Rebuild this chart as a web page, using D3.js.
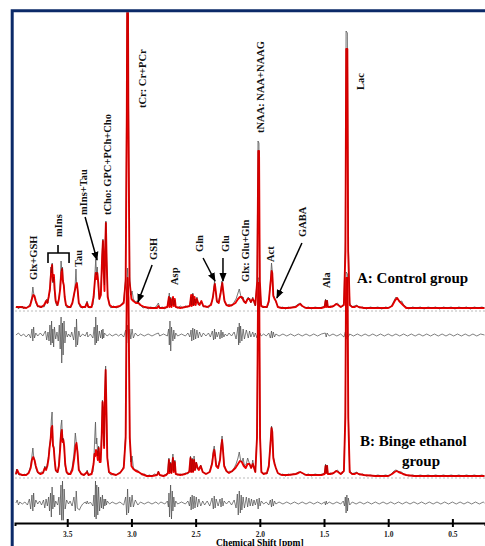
<!DOCTYPE html>
<html>
<head>
<meta charset="utf-8">
<script src="https://cdn.jsdelivr.net/npm/d3@7"></script>
<style>
  html, body { margin: 0; padding: 0; background: #fff; }
  svg { display: block; }
  text { font-family: 'Liberation Serif', 'Times New Roman', serif; font-weight: bold; }
</style>
</head>
<body>
<div id="chart"></div>
<script>
// chemical shift ticks (ppm)
const ppmTicks = [3.5, 3.0, 2.5, 2.0, 1.5, 1.0, 0.5];

// panel A: control group  [ppm, intensity a.u.]
const fitA = [[3.90,4],[3.86,4],[3.82,3],[3.79,5],[3.775,12],[3.765,16],[3.755,15],[3.745,10],[3.73,5],[3.70,4],[3.68,6],[3.665,10],[3.655,8],[3.645,14],[3.635,22],[3.625,40],[3.618,46],[3.612,30],[3.604,36],[3.598,22],[3.59,10],[3.575,6],[3.565,12],[3.555,22],[3.546,38],[3.540,42],[3.534,30],[3.527,26],[3.520,14],[3.51,6],[3.49,4],[3.475,4],[3.46,8],[3.445,18],[3.432,26],[3.425,28],[3.418,20],[3.41,8],[3.39,4],[3.36,4],[3.345,8],[3.335,4],[3.31,4],[3.295,14],[3.285,30],[3.278,38],[3.272,32],[3.266,38],[3.258,28],[3.25,12],[3.238,16],[3.228,55],[3.222,70],[3.216,40],[3.210,20],[3.205,60],[3.199,88],[3.193,50],[3.185,14],[3.17,6],[3.15,4],[3.12,4],[3.09,5],[3.06,8],[3.045,30],[3.036,200],[3.030,420],[3.024,200],[3.015,30],[3.00,12],[2.985,10],[2.965,8],[2.945,8],[2.93,6],[2.90,4],[2.85,3],[2.80,3],[2.79,5],[2.78,3],[2.75,3],[2.72,4],[2.708,14],[2.703,4],[2.695,12],[2.688,4],[2.676,14],[2.67,5],[2.662,12],[2.655,4],[2.62,3],[2.58,4],[2.545,5],[2.535,16],[2.530,5],[2.522,16],[2.516,6],[2.508,14],[2.50,6],[2.49,12],[2.48,8],[2.47,6],[2.455,10],[2.44,5],[2.41,4],[2.38,6],[2.365,14],[2.355,24],[2.350,27],[2.343,20],[2.335,10],[2.32,8],[2.305,18],[2.298,24],[2.292,28],[2.285,20],[2.275,10],[2.26,6],[2.24,5],[2.215,6],[2.19,8],[2.17,12],[2.155,14],[2.14,14],[2.125,10],[2.11,8],[2.095,12],[2.08,12],[2.07,9],[2.055,12],[2.045,10],[2.035,6],[2.020,30],[2.012,160],[2.006,160],[2.000,30],[1.99,5],[1.97,4],[1.945,4],[1.93,10],[1.915,30],[1.908,40],[1.903,38],[1.895,15],[1.885,12],[1.875,10],[1.86,4],[1.83,3],[1.78,3],[1.72,4],[1.70,6],[1.685,7],[1.67,5],[1.64,3],[1.58,3],[1.52,3],[1.495,4],[1.488,10],[1.483,4],[1.476,10],[1.47,4],[1.45,4],[1.425,5],[1.405,7],[1.39,6],[1.37,4],[1.345,6],[1.333,60],[1.327,262],[1.318,262],[1.312,60],[1.30,6],[1.28,4],[1.26,4],[1.245,5],[1.23,4],[1.19,3],[1.10,3],[1.00,3],[0.97,5],[0.945,11],[0.93,13],[0.915,10],[0.90,8],[0.885,6],[0.86,3],[0.80,3],[0.70,3],[0.60,3],[0.50,3],[0.40,3],[0.30,3],[0.25,3]];

const measA = [[3.90,3],[3.89,5],[3.88,2],[3.87,4],[3.86,3],[3.85,5],[3.84,2],[3.83,4],[3.82,3],[3.80,5],[3.785,8],[3.775,15],[3.768,24],[3.762,18],[3.755,14],[3.745,8],[3.73,4],[3.72,5],[3.71,3],[3.70,5],[3.68,4],[3.67,8],[3.66,12],[3.65,8],[3.642,16],[3.635,20],[3.628,44],[3.622,38],[3.617,48],[3.612,28],[3.606,34],[3.60,20],[3.59,8],[3.58,5],[3.57,10],[3.562,16],[3.555,28],[3.548,50],[3.543,40],[3.537,44],[3.532,28],[3.525,24],[3.518,12],[3.51,5],[3.50,3],[3.49,5],[3.475,3],[3.465,6],[3.45,14],[3.44,22],[3.432,42],[3.428,30],[3.42,22],[3.41,8],[3.40,4],[3.38,3],[3.36,5],[3.345,10],[3.34,4],[3.32,3],[3.30,6],[3.29,18],[3.283,40],[3.278,52],[3.272,36],[3.266,44],[3.26,28],[3.25,12],[3.24,18],[3.232,40],[3.226,62],[3.222,72],[3.216,44],[3.21,26],[3.204,66],[3.199,90],[3.193,52],[3.185,16],[3.17,5],[3.16,3],[3.14,5],[3.12,3],[3.10,4],[3.08,6],[3.06,10],[3.045,34],[3.037,220],[3.030,430],[3.023,210],[3.013,34],[3.005,16],[2.995,20],[2.985,12],[2.97,9],[2.955,10],[2.94,7],[2.925,5],[2.91,3],[2.89,4],[2.87,2],[2.85,4],[2.83,3],[2.81,4],[2.79,8],[2.78,3],[2.76,4],[2.74,2],[2.72,5],[2.71,12],[2.705,18],[2.70,6],[2.694,14],[2.688,5],[2.677,13],[2.67,6],[2.663,11],[2.655,4],[2.64,3],[2.62,5],[2.60,3],[2.58,5],[2.56,4],[2.545,6],[2.536,14],[2.53,6],[2.522,18],[2.515,5],[2.508,12],[2.50,8],[2.49,14],[2.48,6],[2.47,8],[2.455,9],[2.44,4],[2.42,5],[2.40,3],[2.385,7],[2.37,10],[2.36,20],[2.353,30],[2.347,22],[2.34,16],[2.332,8],[2.32,10],[2.31,16],[2.302,22],[2.295,30],[2.288,22],[2.28,12],[2.27,8],[2.255,5],[2.24,7],[2.22,5],[2.20,9],[2.185,12],[2.17,18],[2.16,22],[2.15,16],[2.14,12],[2.13,14],[2.12,8],[2.105,10],[2.09,14],[2.08,11],[2.07,8],[2.055,14],[2.045,8],[2.035,5],[2.022,30],[2.014,170],[2.007,168],[2.000,28],[1.99,6],[1.975,3],[1.96,5],[1.945,3],[1.93,8],[1.918,28],[1.909,48],[1.903,40],[1.895,16],[1.886,14],[1.875,9],[1.86,5],[1.845,3],[1.82,4],[1.80,2],[1.78,4],[1.76,3],[1.74,4],[1.72,5],[1.70,7],[1.685,8],[1.67,5],[1.65,3],[1.62,4],[1.60,2],[1.57,4],[1.54,3],[1.51,4],[1.495,5],[1.488,12],[1.483,5],[1.476,11],[1.47,4],[1.45,5],[1.43,4],[1.41,7],[1.395,8],[1.38,5],[1.36,4],[1.345,8],[1.334,70],[1.328,280],[1.318,278],[1.311,70],[1.30,8],[1.285,4],[1.265,5],[1.245,6],[1.225,3],[1.20,4],[1.17,2],[1.14,4],[1.11,3],[1.08,4],[1.05,2],[1.02,4],[0.99,3],[0.97,6],[0.955,10],[0.94,14],[0.925,12],[0.91,9],[0.895,10],[0.88,6],[0.86,4],[0.84,2],[0.81,4],[0.78,3],[0.75,4],[0.72,2],[0.69,4],[0.66,3],[0.63,4],[0.60,2],[0.57,4],[0.54,3],[0.51,4],[0.48,2],[0.45,4],[0.42,3],[0.39,4],[0.36,2],[0.33,4],[0.30,3],[0.27,4],[0.25,3]];

const residA = [[3.90,0],[3.88,2],[3.86,-1],[3.84,1],[3.82,-2],[3.80,1],[3.785,-3],[3.775,6],[3.768,-6],[3.762,8],[3.755,-3],[3.745,2],[3.73,-1],[3.71,2],[3.69,-1],[3.67,4],[3.66,-5],[3.65,3],[3.642,-6],[3.635,10],[3.628,-10],[3.622,14],[3.617,-8],[3.612,6],[3.606,-12],[3.60,8],[3.59,-4],[3.58,3],[3.57,-6],[3.562,10],[3.555,-14],[3.548,18],[3.543,-28],[3.537,12],[3.532,-20],[3.525,14],[3.518,-8],[3.51,4],[3.50,-2],[3.49,1],[3.475,-2],[3.465,3],[3.45,-5],[3.44,8],[3.432,-12],[3.428,16],[3.42,-10],[3.41,4],[3.40,-2],[3.38,1],[3.36,-1],[3.345,3],[3.34,-2],[3.32,1],[3.30,-3],[3.29,8],[3.283,-10],[3.278,18],[3.272,-8],[3.266,10],[3.26,-6],[3.25,4],[3.24,-3],[3.232,5],[3.226,-4],[3.222,6],[3.216,-3],[3.21,2],[3.19,-1],[3.17,1],[3.15,-1],[3.12,1],[3.10,-1],[3.08,1],[3.06,-2],[3.045,5],[3.037,-8],[3.030,10],[3.023,-7],[3.013,6],[3.005,-4],[2.995,6],[2.985,-3],[2.97,2],[2.95,-1],[2.93,1],[2.90,-1],[2.87,1],[2.84,-1],[2.81,1],[2.79,2],[2.78,-1],[2.75,1],[2.72,-1],[2.71,6],[2.705,-10],[2.70,14],[2.694,-16],[2.688,8],[2.677,-6],[2.67,5],[2.663,-4],[2.655,2],[2.64,-1],[2.61,1],[2.58,-1],[2.56,2],[2.545,-2],[2.536,5],[2.53,-6],[2.522,7],[2.515,-5],[2.508,6],[2.50,-4],[2.49,5],[2.48,-3],[2.47,3],[2.455,-2],[2.44,2],[2.42,-1],[2.40,2],[2.385,-2],[2.37,4],[2.36,-5],[2.353,6],[2.347,-4],[2.34,3],[2.332,-2],[2.32,3],[2.31,-4],[2.302,5],[2.295,-3],[2.288,3],[2.28,-2],[2.27,1],[2.255,-1],[2.24,2],[2.22,-1],[2.20,3],[2.185,-4],[2.17,8],[2.165,-10],[2.16,12],[2.155,-8],[2.15,9],[2.14,-6],[2.13,6],[2.12,-4],[2.105,5],[2.09,-3],[2.08,4],[2.07,-2],[2.055,3],[2.045,-2],[2.035,2],[2.022,-3],[2.014,4],[2.007,-3],[2.000,2],[1.99,-1],[1.97,1],[1.95,-1],[1.93,2],[1.918,-3],[1.909,4],[1.903,-3],[1.895,3],[1.886,-2],[1.875,1],[1.85,-1],[1.82,1],[1.79,-1],[1.76,1],[1.73,-1],[1.70,1],[1.67,-1],[1.64,1],[1.61,-1],[1.58,1],[1.55,-1],[1.52,1],[1.49,2],[1.483,-2],[1.476,2],[1.46,-1],[1.43,1],[1.40,-1],[1.37,1],[1.345,-2],[1.334,3],[1.328,-4],[1.318,3],[1.311,-2],[1.30,1],[1.27,-1],[1.24,1],[1.21,-1],[1.18,1],[1.15,-1],[1.12,1],[1.09,-1],[1.06,1],[1.03,-1],[1.00,1],[0.97,-1],[0.94,1],[0.91,-1],[0.88,1],[0.85,-1],[0.82,1],[0.79,-1],[0.76,1],[0.73,-1],[0.70,1],[0.67,-1],[0.64,1],[0.61,-1],[0.58,1],[0.55,-1],[0.52,1],[0.49,-1],[0.46,1],[0.43,-1],[0.40,1],[0.37,-1],[0.34,1],[0.31,-1],[0.28,1],[0.25,0]];

// panel B: binge ethanol group
const fitB = [[3.90,4],[3.89,8],[3.875,4],[3.85,3],[3.82,3],[3.80,5],[3.785,10],[3.775,18],[3.765,21],[3.755,18],[3.745,12],[3.73,6],[3.71,4],[3.69,5],[3.675,10],[3.665,8],[3.655,12],[3.645,20],[3.638,30],[3.630,38],[3.623,50],[3.617,52],[3.611,32],[3.605,30],[3.598,18],[3.59,8],[3.575,6],[3.565,12],[3.557,26],[3.548,44],[3.542,48],[3.536,36],[3.530,38],[3.524,32],[3.516,14],[3.505,6],[3.49,4],[3.475,4],[3.46,8],[3.445,20],[3.435,32],[3.428,35],[3.42,26],[3.41,8],[3.39,4],[3.37,3],[3.345,6],[3.335,3],[3.31,4],[3.295,14],[3.288,24],[3.282,22],[3.276,28],[3.270,26],[3.262,18],[3.255,30],[3.248,16],[3.240,16],[3.232,40],[3.225,76],[3.219,60],[3.213,30],[3.207,80],[3.201,108],[3.195,70],[3.188,20],[3.175,6],[3.15,4],[3.12,3],[3.09,5],[3.06,10],[3.045,40],[3.037,180],[3.030,200],[3.023,180],[3.013,40],[3.00,12],[2.985,9],[2.965,7],[2.945,6],[2.92,4],[2.88,2],[2.84,2],[2.80,3],[2.79,6],[2.78,3],[2.75,2],[2.73,3],[2.715,5],[2.708,18],[2.703,5],[2.695,14],[2.688,5],[2.677,20],[2.67,6],[2.662,16],[2.655,4],[2.62,3],[2.58,4],[2.55,6],[2.540,20],[2.535,6],[2.527,18],[2.52,6],[2.512,18],[2.505,8],[2.495,15],[2.485,10],[2.475,8],[2.46,12],[2.445,6],[2.42,4],[2.39,6],[2.372,14],[2.362,24],[2.355,28],[2.348,22],[2.34,12],[2.325,10],[2.31,18],[2.302,30],[2.294,38],[2.287,28],[2.278,12],[2.26,7],[2.24,5],[2.215,7],[2.19,10],[2.17,14],[2.155,17],[2.14,16],[2.125,12],[2.11,10],[2.095,14],[2.08,14],[2.068,10],[2.055,14],[2.045,10],[2.035,6],[2.022,40],[2.013,195],[2.005,195],[1.998,40],[1.988,6],[1.97,4],[1.945,5],[1.93,12],[1.917,34],[1.909,50],[1.903,46],[1.895,20],[1.885,14],[1.875,10],[1.86,5],[1.83,3],[1.78,3],[1.72,4],[1.70,5],[1.685,6],[1.67,5],[1.64,3],[1.58,3],[1.52,3],[1.495,4],[1.488,12],[1.483,5],[1.476,12],[1.47,4],[1.45,4],[1.425,5],[1.405,7],[1.39,6],[1.37,4],[1.345,7],[1.334,60],[1.328,200],[1.317,200],[1.311,60],[1.30,6],[1.28,4],[1.26,4],[1.245,5],[1.23,4],[1.19,3],[1.10,2],[1.00,2],[0.97,4],[0.95,6],[0.935,7],[0.92,6],[0.90,5],[0.885,4],[0.86,3],[0.80,2],[0.70,2],[0.60,2],[0.50,2],[0.40,2],[0.30,2],[0.25,2]];

const measB = [[3.90,3],[3.895,9],[3.885,5],[3.875,3],[3.86,4],[3.85,2],[3.835,4],[3.82,3],[3.80,6],[3.785,12],[3.775,22],[3.768,30],[3.762,22],[3.755,18],[3.745,10],[3.73,5],[3.72,4],[3.70,6],[3.685,5],[3.675,12],[3.665,9],[3.655,14],[3.645,22],[3.638,32],[3.630,40],[3.624,58],[3.618,66],[3.612,34],[3.605,32],[3.598,16],[3.59,7],[3.575,5],[3.565,14],[3.558,30],[3.549,52],[3.543,58],[3.537,38],[3.531,40],[3.524,30],[3.516,12],[3.505,5],[3.49,3],[3.478,5],[3.462,10],[3.448,24],[3.437,45],[3.43,36],[3.422,28],[3.41,9],[3.395,4],[3.37,3],[3.35,5],[3.345,8],[3.335,3],[3.32,4],[3.30,6],[3.292,20],[3.286,40],[3.280,56],[3.275,34],[3.270,40],[3.262,22],[3.256,32],[3.248,18],[3.240,18],[3.233,44],[3.226,78],[3.219,62],[3.213,32],[3.207,82],[3.201,112],[3.195,72],[3.188,22],[3.175,5],[3.16,3],[3.14,4],[3.12,3],[3.10,5],[3.08,6],[3.06,12],[3.045,44],[3.037,190],[3.030,210],[3.023,185],[3.013,44],[3.005,16],[2.995,22],[2.985,10],[2.97,8],[2.955,8],[2.94,6],[2.92,3],[2.90,4],[2.88,2],[2.86,3],[2.84,2],[2.82,4],[2.80,3],[2.79,7],[2.78,3],[2.76,2],[2.74,3],[2.72,4],[2.708,20],[2.703,6],[2.695,16],[2.688,5],[2.677,24],[2.67,7],[2.662,18],[2.655,4],[2.64,3],[2.62,4],[2.60,3],[2.58,5],[2.56,4],[2.548,8],[2.540,22],[2.535,6],[2.527,20],[2.52,6],[2.512,22],[2.505,8],[2.495,16],[2.485,9],[2.475,10],[2.46,13],[2.445,6],[2.43,5],[2.41,4],[2.39,7],[2.372,16],[2.362,28],[2.355,32],[2.348,24],[2.34,14],[2.325,11],[2.31,20],[2.302,32],[2.294,42],[2.287,30],[2.278,14],[2.265,8],[2.25,5],[2.235,7],[2.215,6],[2.20,10],[2.185,14],[2.17,20],[2.16,26],[2.15,18],[2.14,16],[2.13,20],[2.12,12],[2.105,14],[2.095,20],[2.085,16],[2.075,12],[2.065,10],[2.055,18],[2.045,10],[2.035,6],[2.022,44],[2.013,200],[2.005,200],[1.998,42],[1.988,7],[1.975,4],[1.96,5],[1.945,4],[1.93,10],[1.918,36],[1.909,52],[1.903,48],[1.895,22],[1.886,16],[1.875,10],[1.86,5],[1.845,3],[1.82,4],[1.80,2],[1.78,4],[1.76,3],[1.74,4],[1.72,4],[1.70,6],[1.685,6],[1.67,5],[1.65,3],[1.62,4],[1.60,2],[1.57,4],[1.54,3],[1.51,4],[1.495,5],[1.488,14],[1.483,5],[1.476,13],[1.47,4],[1.45,5],[1.43,4],[1.41,7],[1.395,8],[1.38,5],[1.36,4],[1.345,8],[1.334,66],[1.328,206],[1.317,204],[1.311,66],[1.30,8],[1.285,4],[1.265,5],[1.245,6],[1.225,3],[1.20,4],[1.17,2],[1.14,3],[1.11,2],[1.08,3],[1.05,2],[1.02,3],[0.99,2],[0.97,5],[0.955,7],[0.94,8],[0.925,7],[0.91,6],[0.895,6],[0.88,4],[0.86,3],[0.84,2],[0.81,3],[0.78,2],[0.75,3],[0.72,2],[0.69,3],[0.66,2],[0.63,3],[0.60,2],[0.57,3],[0.54,2],[0.51,3],[0.48,2],[0.45,3],[0.42,2],[0.39,3],[0.36,2],[0.33,3],[0.30,2],[0.27,3],[0.25,2]];

const residB = [[3.90,0],[3.89,3],[3.88,-2],[3.87,1],[3.85,-1],[3.83,1],[3.81,-2],[3.795,4],[3.785,-6],[3.775,8],[3.768,-8],[3.762,10],[3.755,-4],[3.745,3],[3.73,-1],[3.715,2],[3.70,-2],[3.685,3],[3.675,-5],[3.665,4],[3.655,-3],[3.645,6],[3.638,-8],[3.630,10],[3.624,-14],[3.618,16],[3.612,-6],[3.605,8],[3.598,-4],[3.59,2],[3.575,-2],[3.565,6],[3.558,-12],[3.549,18],[3.543,-24],[3.537,22],[3.531,-18],[3.524,14],[3.516,-6],[3.505,3],[3.49,-1],[3.478,2],[3.462,-3],[3.448,6],[3.437,-8],[3.43,12],[3.422,-5],[3.415,-6],[3.405,-7],[3.395,-4],[3.38,-1],[3.36,1],[3.35,-1],[3.345,2],[3.335,-1],[3.32,1],[3.30,-3],[3.292,8],[3.286,-14],[3.280,22],[3.275,-16],[3.270,18],[3.262,-12],[3.256,16],[3.248,-8],[3.240,6],[3.233,-5],[3.226,8],[3.219,-6],[3.213,4],[3.207,-3],[3.201,4],[3.195,-2],[3.188,2],[3.17,-1],[3.15,1],[3.12,-1],[3.09,1],[3.06,-2],[3.045,6],[3.037,-12],[3.030,14],[3.023,-10],[3.013,6],[3.005,-4],[2.995,8],[2.985,-4],[2.97,3],[2.95,-2],[2.93,1],[2.90,-1],[2.87,1],[2.84,-1],[2.81,1],[2.79,-1],[2.77,1],[2.74,-1],[2.72,2],[2.712,-4],[2.708,10],[2.703,-14],[2.695,18],[2.688,-16],[2.682,12],[2.677,-8],[2.67,6],[2.662,-4],[2.655,2],[2.64,-1],[2.61,1],[2.58,-1],[2.56,2],[2.548,-3],[2.540,6],[2.535,-7],[2.527,8],[2.52,-6],[2.512,7],[2.505,-5],[2.495,6],[2.485,-4],[2.475,4],[2.46,-3],[2.445,2],[2.43,-2],[2.41,2],[2.39,-3],[2.372,5],[2.362,-6],[2.355,7],[2.348,-5],[2.34,4],[2.325,-3],[2.31,4],[2.302,-4],[2.294,5],[2.287,-3],[2.278,2],[2.26,-1],[2.24,2],[2.22,-2],[2.20,3],[2.185,-5],[2.175,9],[2.168,-12],[2.16,12],[2.152,-10],[2.145,8],[2.14,-7],[2.13,6],[2.12,-5],[2.105,6],[2.095,-4],[2.085,5],[2.075,-3],[2.065,4],[2.055,-3],[2.045,3],[2.035,-2],[2.022,4],[2.013,-6],[2.005,5],[1.998,-3],[1.988,2],[1.97,-1],[1.95,1],[1.93,-2],[1.918,3],[1.909,-4],[1.903,4],[1.895,-3],[1.886,2],[1.875,-1],[1.85,1],[1.82,-1],[1.79,1],[1.76,-1],[1.73,1],[1.70,-1],[1.67,1],[1.64,-1],[1.61,1],[1.58,-1],[1.55,1],[1.52,-1],[1.495,1],[1.488,-2],[1.483,2],[1.476,-1],[1.46,1],[1.43,-1],[1.40,1],[1.37,-1],[1.35,2],[1.34,-3],[1.334,6],[1.328,-10],[1.322,8],[1.317,-8],[1.311,5],[1.30,-2],[1.28,1],[1.25,-1],[1.22,1],[1.19,-1],[1.16,1],[1.13,-1],[1.10,1],[1.07,-1],[1.04,1],[1.01,-1],[0.98,1],[0.95,-1],[0.92,1],[0.89,-1],[0.86,1],[0.83,-1],[0.80,1],[0.77,-1],[0.74,1],[0.71,-1],[0.68,1],[0.65,-1],[0.62,1],[0.59,-1],[0.56,1],[0.53,-1],[0.50,1],[0.47,-1],[0.44,1],[0.41,-1],[0.38,1],[0.35,-1],[0.32,1],[0.29,-1],[0.26,1],[0.25,0]];

// metabolite labels (ppm, intensity in panel A units where the label starts)
const metaboliteLabels = [
  ['Glx+GSH', 3.766, 31], ['mIns', 3.572, 74], ['Tau', 3.416, 44],
  ['mIns+Tau', 3.377, 96], ['tCho: GPC+PCh+Cho', 3.190, 96],
  ['tCr: Cr+PCr', 2.917, 203], ['GSH', 2.832, 51], ['Asp', 2.661, 26],
  ['Gln', 2.466, 59], ['Glu', 2.271, 59], ['Glx: Glu+Gln', 2.115, 29],
  ['tNAA: NAA+NAAG', 1.991, 178], ['Act', 1.913, 49], ['GABA', 1.664, 74],
  ['Ala', 1.477, 23], ['Lac', 1.212, 221]
];
// arrows [fromPpm, fromVal, toPpm, toVal]
const labelArrows = [
  [3.361, 94, 3.268, 51], [2.839, 46, 2.949, 9], [2.442, 53, 2.349, 30],
  [2.287, 53, 2.287, 30], [1.672, 68, 1.867, 13]
];

const W = 485, H = 546;
const svg = d3.select('#chart').append('svg').attr('width', W).attr('height', H);

const x = d3.scaleLinear().domain([3.907, 0.246]).range([15, 485]);
const yA = d3.scaleLinear().domain([0, 100]).range([311, 211]);
const rA = d3.scaleLinear().domain([0, 100]).range([335, 235]);
const yB = d3.scaleLinear().domain([0, 100]).range([478, 378]);
const rB = d3.scaleLinear().domain([0, 100]).range([503, 403]);

const defs = svg.append('defs');
defs.append('clipPath').attr('id', 'plot')
  .append('rect').attr('x', 13.5).attr('y', 12.3).attr('width', W).attr('height', 508);
defs.append('marker')
  .attr('id', 'arr').attr('viewBox', '0 0 10 10').attr('refX', 9).attr('refY', 5)
  .attr('markerWidth', 6).attr('markerHeight', 6).attr('orient', 'auto')
  .append('path').attr('d', 'M0,1 L10,5 L0,9 Z').attr('fill', '#000');

const plot = svg.append('g').attr('clip-path', 'url(#plot)');

// dashed zero lines
[yA, yB].forEach(y => {
  plot.append('line')
    .attr('x1', x(3.907)).attr('x2', x(0.246))
    .attr('y1', y(0)).attr('y2', y(0))
    .attr('stroke', '#aaa').attr('stroke-width', 0.8).attr('stroke-dasharray', '2,2');
});

function trace(data, y, color, width, opacity) {
  plot.append('path')
    .datum(data)
    .attr('fill', 'none')
    .attr('stroke', color)
    .attr('stroke-width', width)
    .attr('stroke-opacity', opacity)
    .attr('stroke-linejoin', 'round')
    .attr('d', d3.line().x(d => x(d[0])).y(d => y(d[1])));
}

trace(residA, rA, '#444', 0.75, 0.9);
trace(residB, rB, '#444', 0.75, 0.9);
trace(measB, yB, '#8a8a8a', 0.9, 1);
trace(fitB, yB, '#ee0000', 1.9, 1);
trace(measB, yB, '#000', 0.7, 0.25);
trace(measA, yA, '#8a8a8a', 0.9, 1);
trace(fitA, yA, '#ee0000', 1.9, 1);
trace(measA, yA, '#000', 0.7, 0.25);

// labels
const ann = svg.append('g');
ann.selectAll('text.metab')
  .data(metaboliteLabels)
  .join('text')
  .attr('class', 'metab')
  .attr('transform', d => `translate(${x(d[1])},${yA(d[2])}) rotate(-90)`)
  .attr('dominant-baseline', 'central')
  .attr('font-size', 10.5)
  .attr('fill', '#111')
  .text(d => d[0]);

ann.selectAll('line.arr')
  .data(labelArrows)
  .join('line')
  .attr('class', 'arr')
  .attr('x1', d => x(d[0])).attr('y1', d => yA(d[1]))
  .attr('x2', d => x(d[2])).attr('y2', d => yA(d[3]))
  .attr('stroke', '#000').attr('stroke-width', 1.5)
  .attr('marker-end', 'url(#arr)');

// mIns bracket
ann.append('path')
  .attr('d', `M${x(3.650)},${yA(48)} V${yA(58)} H${x(3.486)} V${yA(48)} M${x(3.572)},${yA(58)} V${yA(66)}`)
  .attr('fill', 'none').attr('stroke', '#000').attr('stroke-width', 1.6);

// group titles
ann.append('text').attr('x', 357).attr('y', 283).attr('font-size', 15).text('A: Control group');
ann.append('text').attr('x', 360).attr('y', 446).attr('font-size', 15).text('B: Binge ethanol');
ann.append('text').attr('x', 421).attr('y', 466).attr('font-size', 15).attr('text-anchor', 'middle').text('group');

// axis
const axis = svg.append('g')
  .attr('transform', 'translate(0,523)')
  .call(d3.axisBottom(x).tickValues(ppmTicks).tickFormat(d3.format('.1f')).tickSizeOuter(0).tickSize(3));
axis.select('.domain').attr('stroke', '#000').attr('stroke-width', 2);
axis.selectAll('.tick line').attr('y1', -4).attr('y2', 4).attr('stroke-width', 2);
axis.selectAll('.tick text')
  .attr('y', 13.5).attr('dy', null)
  .attr('font-family', "'Liberation Serif', serif").attr('font-weight', 'bold')
  .attr('font-size', 7.5).attr('fill', '#222');

svg.append('text')
  .attr('x', x(2.0)).attr('y', 545.5)
  .attr('text-anchor', 'middle').attr('font-size', 9.5)
  .text('Chemical Shift [ppm]');

// frame
svg.append('path')
  .attr('d', `M12.2,${H} V10.8 H${W}`)
  .attr('fill', 'none').attr('stroke', '#0c2a68').attr('stroke-width', 3);
</script>
</body>
</html>
